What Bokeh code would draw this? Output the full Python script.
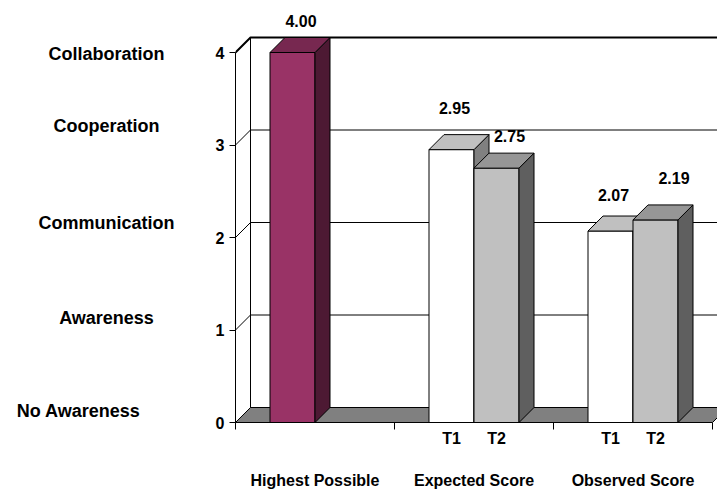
from bokeh.plotting import figure
from bokeh.layouts import row
from bokeh.models import (FixedTicker, LinearAxis, Range1d, CustomJSTickFormatter)
from bokeh.core.properties import value
from bokeh.embed import file_html
from bokeh.resources import INLINE

# ---------------- data ----------------
categories = ["Highest Possible", "Expected Score", "Observed Score"]
series_names = ["T1", "T2"]
t1_values = [4.00, 2.95, 2.07]
t2_values = [None, 2.75, 2.19]
scale_ticks = [0, 1, 2, 3, 4]
scale_labels = ["No Awareness", "Awareness", "Communication", "Cooperation", "Collaboration"]
series_label_categories = ["Expected Score", "Observed Score"]
highlight_category = "Highest Possible"

# ---------------- layout / style ----------------
W, H = 717, 492
PANEL_W = 210            # left panel holding the scale names
AXIS_W = 25              # room for the numeric y axis
BORDER_BOTTOM = 70
PX_CAT = 159.0           # pixels per category
PX_UNIT = 92.5           # pixels per score unit
DEPTH_PX = 15
BAR_PX = 45
MAIN_W = W - PANEL_W
x_end = (MAIN_W - AXIS_W) / PX_CAT
y_end = (H - BORDER_BOTTOM) / PX_UNIT
DX = DEPTH_PX / PX_CAT
DY = DEPTH_PX / PX_UNIT
BW = BAR_PX / PX_CAT

FONT = "Liberation Sans, Arial, sans-serif"

face_colors = {
    "highlight": ("#993366", "#772850", "#4d1933"),   # front, top, side
    "T1": ("#ffffff", "#c0c0c0", "#808080"),
    "T2": ("#c0c0c0", "#969696", "#5f5f5f"),
}
# value-label nudges in pixels (right, up) relative to top-face centre
label_nudge = {
    "T1": ([1, -4.5, -4.5], [17, 26.5, 21]),
    "T2": ([0, 5.5, 11], [0, 17, 27]),
}
# scale-name placement (centre x in panel px, upward nudge px)
scale_label_cx = [78, 106, 106, 106, 106]
scale_label_up = [12, 12.5, 15, 19, -1.7]

ymax = max(scale_ticks)
ncat = len(categories)

y_range = Range1d(0, y_end)

# ---------------- left panel with scale names ----------------
lf = figure(width=PANEL_W, height=H, x_range=Range1d(0, PANEL_W), y_range=y_range,
            x_axis_location=None, y_axis_location=None,
            output_backend="svg", toolbar_location=None,
            min_border_left=0, min_border_right=0, min_border_top=0,
            min_border_bottom=BORDER_BOTTOM, outline_line_color=None,
            background_fill_color="white", border_fill_color="white")
lf.grid.visible = False
lf.text(x=scale_label_cx, y=[lvl + up / PX_UNIT for lvl, up in zip(scale_ticks, scale_label_up)],
        text=scale_labels, text_font=value(FONT), text_font_style="bold",
        text_font_size="18px", text_align="center", text_baseline="middle",
        text_color="black")

# ---------------- main chart ----------------
p = figure(width=MAIN_W, height=H, x_range=Range1d(0, x_end), y_range=y_range,
           output_backend="svg", toolbar_location=None,
           min_border_left=AXIS_W, min_border_right=0, min_border_top=0,
           min_border_bottom=BORDER_BOTTOM, outline_line_color=None,
           background_fill_color="white", border_fill_color="white")
p.grid.visible = False

# floor
p.patch([0, ncat, ncat + DX, DX], [0, 0, DY, DY], fill_color="#808080",
        line_color="black", line_width=1)
# left side wall
p.patch([0, DX, DX, 0], [0, DY, ymax + DY, ymax], fill_color="white",
        line_color="black", line_width=1)
# gridlines (side wall diagonal + back wall horizontal)
for v in scale_ticks[1:]:
    p.line([0, DX, x_end + 1], [v, v + DY, v + DY], line_color="black",
           line_width=2 if v == ymax else 1)
# back wall left edge
p.line([DX, DX], [DY, ymax + DY], line_color="black", line_width=1)

# bars (front, side, top faces)
xs, ys, fills = [], [], []
tx, ty, tt = [], [], []
for i, cat in enumerate(categories):
    for s, vals in zip(series_names, [t1_values, t2_values]):
        v = vals[i]
        if v is None:
            continue
        left = i + 0.5 - BW if s == "T1" else i + 0.5
        right = left + BW
        key = "highlight" if cat == highlight_category else s
        front, top, side = face_colors[key]
        xs += [[left, right, right, left],
               [right, right + DX, right + DX, right],
               [left, right, right + DX, left + DX]]
        ys += [[0, 0, v, v],
               [0, DY, v + DY, v],
               [v, v, v + DY, v + DY]]
        fills += [front, side, top]
        ndx, nup = label_nudge[s]
        tx.append(left + BW / 2 + DX / 2 + ndx[i] / PX_CAT)
        ty.append(v + DY + nup[i] / PX_UNIT)
        tt.append(f"{v:.2f}")

p.patches(xs, ys, fill_color=fills, line_color="black", line_width=1)
p.text(x=tx, y=ty, text=tt, text_font=value(FONT), text_font_style="bold",
       text_font_size="16px", text_align="center", text_baseline="middle",
       text_color="black")

# y axis
ya = p.yaxis[0]
ya.ticker = FixedTicker(ticks=scale_ticks)
ya.bounds = (0, ymax)
ya.major_tick_out = 6
ya.major_tick_in = 0
ya.minor_tick_out = 0
ya.minor_tick_in = 0
ya.axis_line_color = "black"
ya.major_tick_line_color = "black"
ya.major_label_standoff = 5
ya.major_label_text_font = FONT
ya.major_label_text_font_style = "bold"
ya.major_label_text_font_size = "16px"
ya.major_label_text_color = "black"

# x axis: category boundaries as minor ticks, T1/T2 as major labels
label_pos, label_txt = [], []
for cat in series_label_categories:
    i = categories.index(cat)
    label_pos += [i + 0.5 - BW / 2, i + 0.5 + BW / 2]
    label_txt += series_names
xa = p.xaxis[0]
xa.ticker = FixedTicker(ticks=label_pos, minor_ticks=list(range(ncat + 1)))
xa.bounds = (0, ncat)
xa.formatter = CustomJSTickFormatter(args=dict(pos=label_pos, lab=label_txt), code="""
for (let k = 0; k < pos.length; k++) { if (Math.abs(pos[k] - tick) < 1e-6) return lab[k]; }
return '';
""")
xa.major_tick_out = 0
xa.major_tick_in = 0
xa.major_tick_line_color = None
xa.minor_tick_out = 7
xa.minor_tick_in = 0
xa.minor_tick_line_color = "black"
xa.axis_line_color = "black"
xa.major_label_standoff = 0
xa.major_label_text_font = FONT
xa.major_label_text_font_style = "bold"
xa.major_label_text_font_size = "16px"
xa.major_label_text_color = "black"

# category names axis
ca = LinearAxis(ticker=FixedTicker(ticks=[i + 0.5 for i in range(ncat)]),
                formatter=CustomJSTickFormatter(args=dict(names=categories),
                                                code="return names[Math.floor(tick)];"))
ca.axis_line_color = None
ca.major_tick_line_color = None
ca.minor_tick_line_color = None
ca.major_tick_out = 0
ca.major_tick_in = 0
ca.major_label_standoff = 22
ca.major_label_text_font = FONT
ca.major_label_text_font_style = "bold"
ca.major_label_text_font_size = "16px"
ca.major_label_text_color = "black"
p.add_layout(ca, "below")

layout = row(lf, p, spacing=0)
open("out.html", "w").write(file_html(layout, INLINE))
